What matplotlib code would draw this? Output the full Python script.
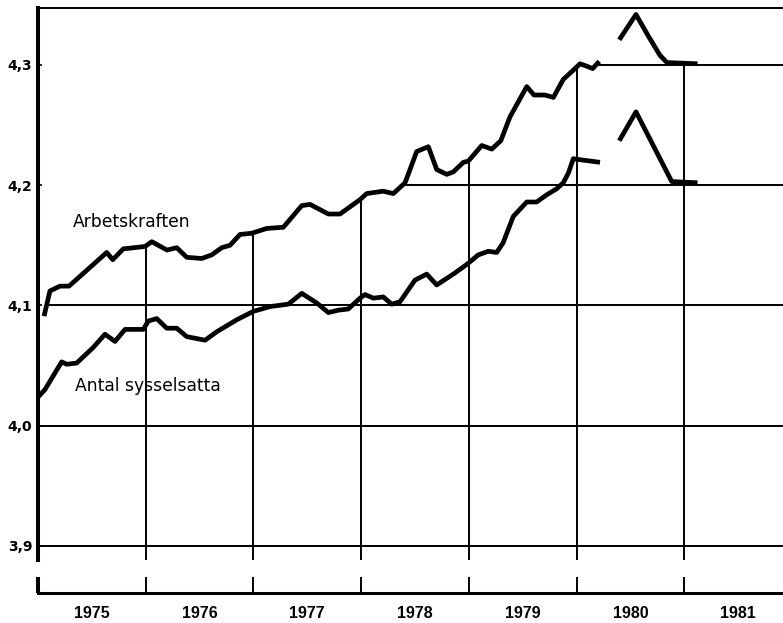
import matplotlib.pyplot as plt
from matplotlib.patches import Polygon

# Arbetskraften, miljoner personer
arb_t = [1975.056, 1975.111, 1975.204, 1975.288, 1975.638, 1975.694, 1975.792,
         1975.994, 1976.056, 1976.198, 1976.288, 1976.381, 1976.520, 1976.613,
         1976.706, 1976.783, 1976.876, 1976.984, 1977.124, 1977.278, 1977.449,
         1977.526, 1977.696, 1977.804, 1977.990, 1978.052, 1978.206, 1978.299,
         1978.408, 1978.516, 1978.624, 1978.702, 1978.795, 1978.856, 1978.949,
         1978.995, 1979.120, 1979.213, 1979.297, 1979.383, 1979.538, 1979.605,
         1979.708, 1979.785, 1979.877, 1979.986, 1980.032, 1980.095, 1980.150,
         1980.211]
arb_v = [4.091, 4.112, 4.116, 4.116, 4.144, 4.138, 4.147,
         4.149, 4.153, 4.146, 4.148, 4.140, 4.139, 4.142,
         4.148, 4.150, 4.159, 4.160, 4.164, 4.165, 4.183,
         4.184, 4.176, 4.176, 4.188, 4.193, 4.195, 4.193,
         4.202, 4.228, 4.232, 4.213, 4.209, 4.211, 4.219,
         4.220, 4.233, 4.230, 4.237, 4.257, 4.282, 4.275,
         4.275, 4.273, 4.288, 4.297, 4.301, 4.299, 4.297,
         4.303]

# Antal sysselsatta
sys_t = [1975.003, 1975.065, 1975.220, 1975.266, 1975.359, 1975.513, 1975.622,
         1975.715, 1975.808, 1975.978, 1976.024, 1976.102, 1976.195, 1976.288,
         1976.381, 1976.551, 1976.659, 1976.845, 1976.999, 1977.154, 1977.324,
         1977.449, 1977.588, 1977.696, 1977.788, 1977.881, 1977.990, 1978.036,
         1978.113, 1978.206, 1978.284, 1978.361, 1978.500, 1978.609, 1978.702,
         1978.872, 1978.980, 1979.088, 1979.181, 1979.259, 1979.318, 1979.413,
         1979.538, 1979.630, 1979.723, 1979.816, 1979.877, 1979.924, 1979.970,
         1980.048, 1980.218]
sys_v = [4.024, 4.030, 4.053, 4.051, 4.052, 4.065, 4.076,
         4.070, 4.080, 4.080, 4.087, 4.089, 4.081, 4.081,
         4.074, 4.071, 4.078, 4.088, 4.095, 4.099, 4.101,
         4.110, 4.102, 4.094, 4.096, 4.097, 4.106, 4.109,
         4.106, 4.107, 4.101, 4.103, 4.121, 4.126, 4.117,
         4.127, 4.134, 4.142, 4.145, 4.144, 4.152, 4.174,
         4.186, 4.186, 4.192, 4.197, 4.202, 4.210, 4.222,
         4.221, 4.219]

# prognosmarkeringar 1980
prog_arb_t = [1980.397, 1980.552, 1980.667, 1980.775, 1980.840, 1981.123]
prog_arb_v = [4.321, 4.342, 4.324, 4.308, 4.302, 4.301]
prog_sys_t = [1980.397, 1980.552, 1980.884, 1981.123]
prog_sys_v = [4.237, 4.261, 4.203, 4.202]

years = [1975, 1976, 1977, 1978, 1979, 1980, 1981]
year_labels = ['1975', '1976', '1977', '1978', '1979', '1980', '1981']
y_ticks = [3.9, 4.0, 4.1, 4.2, 4.3]
y_labels = ['3,9', '4,0', '4,1', '4,2', '4,3']

X0, X1 = 1975.0, 1981.917
Y0, Y1 = 3.8607, 4.3474
GRID_BOTTOM = 3.888

fig = plt.figure(figsize=(7.83, 6.23), dpi=100)
ax = fig.add_axes([38/783, 1 - 593/623, 1 - 38/783, 585/623])
ax.set_xlim(X0, X1)
ax.set_ylim(Y0, Y1)

# grid only below the Arbetskraften curve
clip_xy = [(X0, 4.105)] + list(zip(arb_t, arb_v)) + \
          [(arb_t[-1], 4.302), (X1 + 1, 4.302), (X1 + 1, Y0 - 1), (X0, Y0 - 1)]
clip = Polygon(clip_xy, closed=True, transform=ax.transData)

hl = ax.hlines(y_ticks, X0, X1, colors='black', lw=1.4)
hl.set_clip_path(clip)
vl = ax.vlines(years[1:], GRID_BOTTOM, Y1, colors='black', lw=1.4)
vl.set_clip_path(clip)

kw = dict(color='black', lw=3.4, solid_joinstyle='round', solid_capstyle='butt')
ax.plot(arb_t, arb_v, **kw)
ax.plot(sys_t, sys_v, **kw)
ax.plot(prog_arb_t, prog_arb_v, **kw)
ax.plot(prog_sys_t, prog_sys_v, **kw)

ax.text(1975.325, 4.1652, 'Arbetskraften', fontsize=12.3, family='DejaVu Sans')
ax.text(1975.344, 4.0288, 'Antal sysselsatta', fontsize=12.3, family='DejaVu Sans')

# broken frame
ax.spines['right'].set_visible(False)
ax.spines['top'].set_linewidth(1.4)
ax.spines['left'].set_linewidth(2.9)
ax.spines['left'].set_bounds(GRID_BOTTOM, Y1)
ax.spines['bottom'].set_linewidth(2.2)
ax.plot([X0, X0], [Y0, 3.874], color='black', lw=2.9, clip_on=False,
        solid_capstyle='butt')

ax.set_xticks(years)
ax.set_xticklabels([])
ax.set_xticks([y + 0.5 for y in years], minor=True)
ax.set_xticklabels(year_labels, minor=True, fontsize=11.5,
                   fontweight='bold', family='Liberation Sans')
ax.tick_params(axis='x', which='major', direction='in', length=11.5, width=1.4)
ax.tick_params(axis='x', which='minor', length=0, pad=9)

ax.set_yticks(y_ticks)
ax.set_yticklabels(y_labels, fontsize=10, fontweight='bold', family='DejaVu Sans')
ax.tick_params(axis='y', direction='in', length=3, width=1.2, pad=4)

fig.savefig('out.png', dpi=100)
